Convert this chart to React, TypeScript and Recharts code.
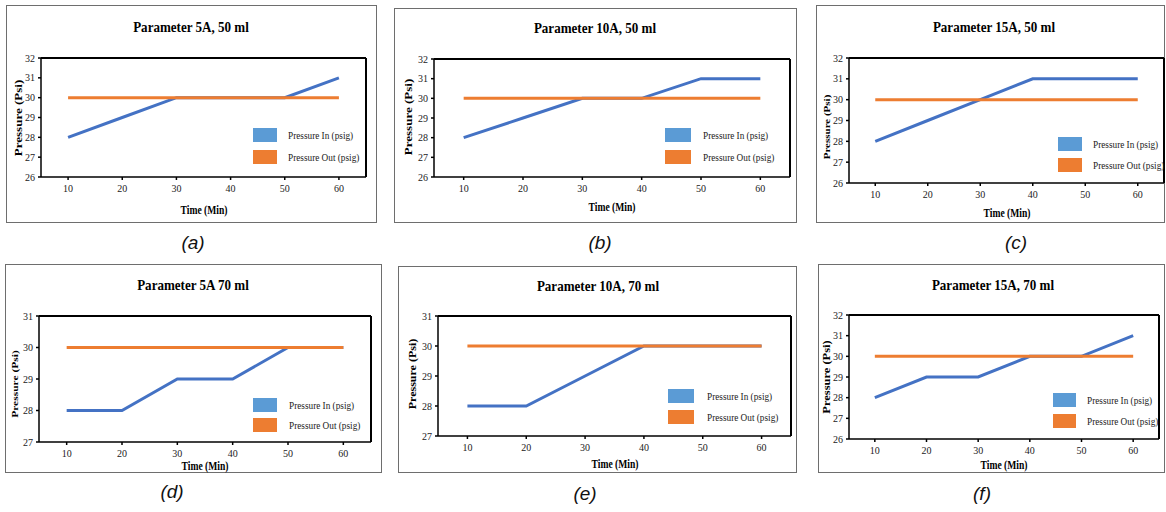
import React from 'react';
import { LineChart, Line, XAxis, YAxis } from 'recharts';

const times = [10, 20, 30, 40, 50, 60];
const pressureOut = [30, 30, 30, 30, 30, 30];
const inA = [28, 29, 30, 30, 30, 31];
const inB = [28, 29, 30, 30, 31, 31];
const inC = [28, 29, 30, 31, 31, 31];
const inD = [28, 28, 29, 29, 30, 30];
const inE = [28, 28, 29, 30, 30, 30];
const inF = [28, 29, 29, 30, 30, 31];
const titles = [
  'Parameter 5A, 50 ml',
  'Parameter 10A, 50 ml',
  'Parameter 15A, 50 ml',
  'Parameter 5A 70 ml',
  'Parameter 10A, 70 ml',
  'Parameter 15A, 70 ml',
];
const captions = ['(a)', '(b)', '(c)', '(d)', '(e)', '(f)'];
const ticks50 = [26, 27, 28, 29, 30, 31, 32];
const ticks70 = [27, 28, 29, 30, 31];

const BLUE = '#4472C4';
const BLUE_KEY = '#5B9BD5';
const ORANGE = '#ED7D31';
const SERIF = '"Liberation Serif", "Times New Roman", serif';

// layout per panel: frame box, plot box, text anchors
const panels = [
  { pin: inA, yt: ticks50, frame: [6, 5, 377, 223], plot: [41, 58, 366, 177], title: [191, 27], xl: [204, 210], yl: [18, 118, 13], leg: [253, 277, 135, 157, 288], cap: [193, 242] },
  { pin: inB, yt: ticks50, frame: [394, 8, 797, 223], plot: [434, 59, 790, 177], title: [595, 28], xl: [612, 207], yl: [408, 117, 13], leg: [665, 691, 135, 156.5, 703], cap: [600, 242] },
  { pin: inC, yt: ticks50, frame: [816, 5, 1165, 223], plot: [849, 58, 1164, 183], title: [994, 27], xl: [1007, 213], yl: [827, 127, 11], leg: [1058, 1082, 143.5, 165, 1093], cap: [1016, 242] },
  { pin: inD, yt: ticks70, frame: [5, 264, 382, 473], plot: [39, 316, 371, 442], title: [193, 285], xl: [205, 466], yl: [15, 384, 11.5], leg: [253, 277, 405, 425, 289], cap: [172, 491] },
  { pin: inE, yt: ticks70, frame: [398, 266, 797, 473], plot: [438, 316, 791, 436], title: [598, 286], xl: [615, 464], yl: [413, 374, 12], leg: [668, 694, 396, 416.5, 707], cap: [585, 493] },
  { pin: inF, yt: ticks50, frame: [818, 264, 1165, 473], plot: [849, 315, 1159, 439], title: [993, 285], xl: [1004, 465], yl: [827, 377, 12.5], leg: [1053, 1076, 400, 420.5, 1087], cap: [982, 493] },
];

const YW = 28;
const XH = 20;

const centered = (x: number, y: number, k = 1, extra = ''): React.CSSProperties => ({
  position: 'absolute',
  left: x,
  top: y,
  transform: `translate(-50%, -50%) ${extra} scaleX(${k})`,
  whiteSpace: 'nowrap',
  lineHeight: 1,
});

function Panel({ p, i }: { p: any; i: number }) {
  const [fl, ft, fr, fb] = p.frame;
  const [pl, pt, pr, pb] = p.plot;
  const data = times.map((t, j) => ({ t, pin: p.pin[j], pout: pressureOut[j] }));
  const yDomain = [p.yt[0], p.yt[p.yt.length - 1]];
  const [bx0, bx1, by1, by2, tx] = p.leg;
  return (
    <>
      <div style={{ position: 'absolute', left: fl, top: ft, width: fr - fl - 2, height: fb - ft - 2, border: '1px solid #6e6e6e' }} />
      <div style={{ position: 'absolute', left: fl, top: ft }}>
        <LineChart
          width={fr - fl}
          height={fb - ft}
          data={data}
          margin={{ top: pt - ft - 1, left: pl - fl - YW, right: Math.max(0, fr - pr - 1), bottom: fb - pb - XH }}
        >
          <XAxis
            dataKey="t"
            type="number"
            domain={[5, 65]}
            ticks={times}
            height={XH}
            stroke="#000"
            strokeWidth={1.5}
            tickSize={3}
            tickMargin={5}
            tick={{ fill: '#222', fontSize: 10, fontFamily: SERIF }}
          />
          <XAxis xAxisId="top" dataKey="t" type="number" domain={[5, 65]} orientation="top" height={1} tick={false} tickLine={false} stroke="#000" strokeWidth={2} />
          <YAxis
            type="number"
            domain={yDomain}
            ticks={p.yt}
            width={YW}
            stroke="#000"
            strokeWidth={1.5}
            tickSize={3}
            tickMargin={3}
            tick={{ fill: '#222', fontSize: 10, fontFamily: SERIF }}
          />
          <YAxis yAxisId="right" orientation="right" domain={yDomain} width={1} tick={false} tickLine={false} stroke="#000" strokeWidth={2} />
          <Line dataKey="pin" stroke={BLUE} strokeWidth={3} dot={false} isAnimationActive={false} />
          <Line dataKey="pout" stroke={ORANGE} strokeWidth={3} dot={false} isAnimationActive={false} />
        </LineChart>
      </div>
      <div style={{ ...centered(p.title[0], p.title[1], 0.87), fontFamily: SERIF, fontWeight: 700, fontSize: 15 }}>{titles[i]}</div>
      <div style={{ ...centered(p.xl[0], p.xl[1], 0.8), fontFamily: SERIF, fontWeight: 700, fontSize: 12 }}>Time (Min)</div>
      <div style={{ ...centered(p.yl[0], p.yl[1], 1, 'rotate(-90deg) scaleY(0.8)'), fontFamily: SERIF, fontWeight: 700, fontSize: p.yl[2] }}>Pressure (Psi)</div>
      <div style={{ position: 'absolute', left: bx0, top: by1 - 7, width: bx1 - bx0, height: 14, background: BLUE_KEY }} />
      <div style={{ position: 'absolute', left: bx0, top: by2 - 7, width: bx1 - bx0, height: 14, background: ORANGE }} />
      <div style={{ position: 'absolute', left: tx, top: by1, transform: 'translateY(-50%) scaleX(0.84)', transformOrigin: 'left center', fontFamily: SERIF, fontSize: 11, lineHeight: 1, whiteSpace: 'nowrap', color: '#222' }}>Pressure In (psig)</div>
      <div style={{ position: 'absolute', left: tx, top: by2, transform: 'translateY(-50%) scaleX(0.84)', transformOrigin: 'left center', fontFamily: SERIF, fontSize: 11, lineHeight: 1, whiteSpace: 'nowrap', color: '#222' }}>Pressure Out (psig)</div>
      <div style={{ ...centered(p.cap[0], p.cap[1]), fontFamily: '"Liberation Sans", Arial, sans-serif', fontStyle: 'italic', fontSize: 19, color: '#111' }}>{captions[i]}</div>
    </>
  );
}

export default function App() {
  return (
    <div style={{ position: 'absolute', left: 0, top: 0, width: 1166, height: 512, background: '#fff', overflow: 'hidden' }}>
      {panels.map((p, i) => (
        <Panel key={i} p={p} i={i} />
      ))}
    </div>
  );
}
